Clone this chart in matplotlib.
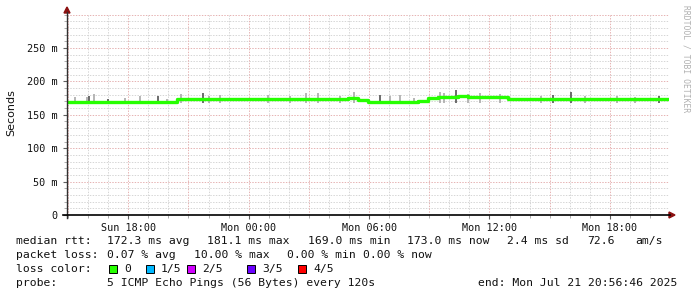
import datetime as dt
import numpy as np
import matplotlib
matplotlib.use("Agg")
from matplotlib import pyplot as plt
import matplotlib.dates as mdates
from matplotlib.patches import Rectangle, Polygon

W, H = 697, 297

# --- data ---
start = dt.datetime(2025, 7, 20, 14, 56, 46)
end = dt.datetime(2025, 7, 21, 20, 56, 46)

# median rtt in ms, one value every half hour from start
med_ms = [169.5, 169.5, 169.8, 169.5, 169.0, 169.3, 169.5, 169.5, 169.3, 169.0,
          169.5, 173.5, 174.0, 174.0, 174.0, 173.8, 174.0, 174.0, 173.5, 173.5,
          174.0, 174.0, 174.0, 173.8, 174.0, 174.0, 174.0, 174.0, 175.5, 171.5,
          169.0, 169.5, 169.0, 169.0, 169.0, 170.0, 175.5, 176.5, 177.0, 177.5,
          177.0, 176.5, 177.0, 176.0, 173.5, 173.5, 173.5, 173.0, 173.5, 174.0,
          173.5, 174.0, 174.0, 174.0, 174.0, 174.0, 174.0, 174.0, 174.0, 174.0]

# smoke spikes: hours after start, top in ms, dark or not
spike_h = [0.4, 1.0, 1.1, 1.35, 2.05, 2.9, 3.65, 4.55, 5.0, 5.7, 6.8, 7.1, 7.6,
           10.0, 11.1, 11.9, 12.5, 13.6, 14.3, 15.6, 16.1, 16.6, 17.3, 18.6,
           18.8, 19.4, 20.0, 20.6, 21.6, 23.6, 24.2, 25.1, 25.8, 27.4, 28.3, 29.5]
spike_top = [176, 177, 178, 181, 174, 175, 178, 178, 174, 181, 182.5, 178, 179,
             180, 178, 182, 183, 178, 184, 180, 178, 180, 175, 184,
             183, 187, 181, 182, 181, 178, 180, 184, 178, 178, 177, 178]
spike_dark = [0, 0, 1, 0, 1, 0, 0, 1, 0, 0, 1, 0, 0,
              0, 0, 0, 0, 0, 0, 1, 0, 0, 0, 0,
              0, 1, 0, 0, 0, 0, 1, 1, 0, 0, 0, 1]

y_ticks = [0, 50, 100, 150, 200, 250]
loss_labels = ["0", "1/5", "2/5", "3/5", "4/5"]
loss_colors = ["#26ff00", "#00b8ff", "#d000ff", "#6a00ff", "#ff0000"]

legend_rows = [
    [(16, "median rtt:"), (107, "172.3 ms avg"), (207, "181.1 ms max"),
     (308, "169.0 ms min"), (407, "173.0 ms now"), (507, "2.4 ms sd"),
     (587, "72.6"), (635, "am/s")],
    [(16, "packet loss:"), (107, "0.07 % avg"), (194, "10.00 % max"),
     (287, "0.00 % min"), (363, "0.00 % now")],
    [(16, "loss color:")],
    [(16, "probe:"), (107, "5 ICMP Echo Pings (56 Bytes) every 120s"),
     (478, "end: Mon Jul 21 20:56:46 2025")],
]
legend_y = [241, 255, 269, 283]


def fx(px):
    return px / W


def fy(py):
    return 1 - py / H


fig = plt.figure(figsize=(W / 100, H / 100), dpi=100)
fig.patch.set_facecolor("white")
x0, x1, y0, y1 = 67, 669, 215, 14.6
ax = fig.add_axes([fx(x0), fy(y0), fx(x1 - x0), (y0 - y1) / H])
ax.set_xlim(start, end)
ax.set_ylim(0, 300)
for s in ax.spines.values():
    s.set_visible(False)

# grid
for v in range(10, 301, 10):
    c = "#e6b4b4" if v % 50 == 0 else "#d6d6d6"
    ax.axhline(v, color=c, lw=0.72, ls=(0, (1.4, 1.4)), zorder=0)
hour = start.replace(minute=0, second=0) + dt.timedelta(hours=1)
while hour < end:
    c = "#e6b4b4" if hour.hour % 3 == 0 else "#d6d6d6"
    ax.axvline(hour, color=c, lw=0.72, ls=(0, (1.4, 1.4)), zorder=0)
    hour += dt.timedelta(hours=1)

# smoke + median
t = [start + dt.timedelta(hours=0.5 * i) for i in range(len(med_ms))]
t_end = t + [t[-1] + dt.timedelta(hours=0.4)]
med = np.array(med_ms + [med_ms[-1]])
ax.fill_between(t_end, med - 0.8, med + 1.3, step="post", color="#b8b8b8", lw=0, zorder=2)
for h, top, dark in zip(spike_h, spike_top, spike_dark):
    tt = start + dt.timedelta(hours=h)
    ax.vlines(tt, 168, top, color="#606060" if dark else "#b0b0b0", lw=1.3, zorder=2)
ax.step(t_end, med, where="post", color=loss_colors[0], lw=2.4, zorder=3)

# ticks
ax.set_yticks(y_ticks)
ax.set_yticklabels([f"{v} m" if v else "0" for v in y_ticks])
ax.set_yticks(range(0, 301, 10), minor=True)
ax.xaxis.set_major_locator(mdates.HourLocator(byhour=[0, 6, 12, 18]))
ax.xaxis.set_major_formatter(mdates.DateFormatter("%a %H:%M"))
ax.xaxis.set_minor_locator(mdates.HourLocator())
ax.tick_params(axis="both", which="major", length=3, width=0.8, color="#606060",
               labelsize=7.3, labelcolor="#111111", pad=4)
ax.tick_params(axis="both", which="minor", length=2, width=0.6, color="#a0a0a0")
for lab in ax.get_xticklabels() + ax.get_yticklabels():
    lab.set_family("DejaVu Sans Mono")
ax.tick_params(axis="x", pad=3)

# axis lines and arrows
fig.add_artist(plt.Line2D([fx(67), fx(67)], [fy(218), fy(12)], color="#303030", lw=1.0))
fig.add_artist(plt.Line2D([fx(63), fx(670)], [fy(215), fy(215)], color="black", lw=1.2))
fig.add_artist(Polygon([[fx(64), fy(13)], [fx(70), fy(13)], [fx(67), fy(7)]],
                       closed=True, color="#8b1010", transform=fig.transFigure))
fig.add_artist(Polygon([[fx(669), fy(212)], [fx(669), fy(218)], [fx(675), fy(215)]],
                       closed=True, color="#8b1010", transform=fig.transFigure))

fig.text(fx(11), fy(113), "Seconds", rotation=90, ha="center", va="center",
         fontsize=8, color="#111111")
fig.text(fx(686), fy(5), "RRDTOOL / TOBI OETIKER", rotation=-90, ha="center", va="top",
         fontsize=5.8, color="#b0b0b0", family="DejaVu Sans Mono")

# legend
for row, yy in zip(legend_rows, legend_y):
    for xx, s in row:
        fig.text(fx(xx), fy(yy), s, ha="left", va="center", fontsize=8.2,
                 family="DejaVu Sans Mono", color="#111111")
sq_x = [109, 146, 187, 247, 298]
for xx, lab, c in zip(sq_x, loss_labels, loss_colors):
    fig.add_artist(Rectangle((fx(xx), fy(273)), fx(8), 8 / H, facecolor=c,
                             edgecolor="black", lw=0.7, transform=fig.transFigure))
    fig.text(fx(xx + 15), fy(269), lab, ha="left", va="center", fontsize=8.2,
             family="DejaVu Sans Mono", color="#111111")

fig.savefig("out.png", dpi=100)
